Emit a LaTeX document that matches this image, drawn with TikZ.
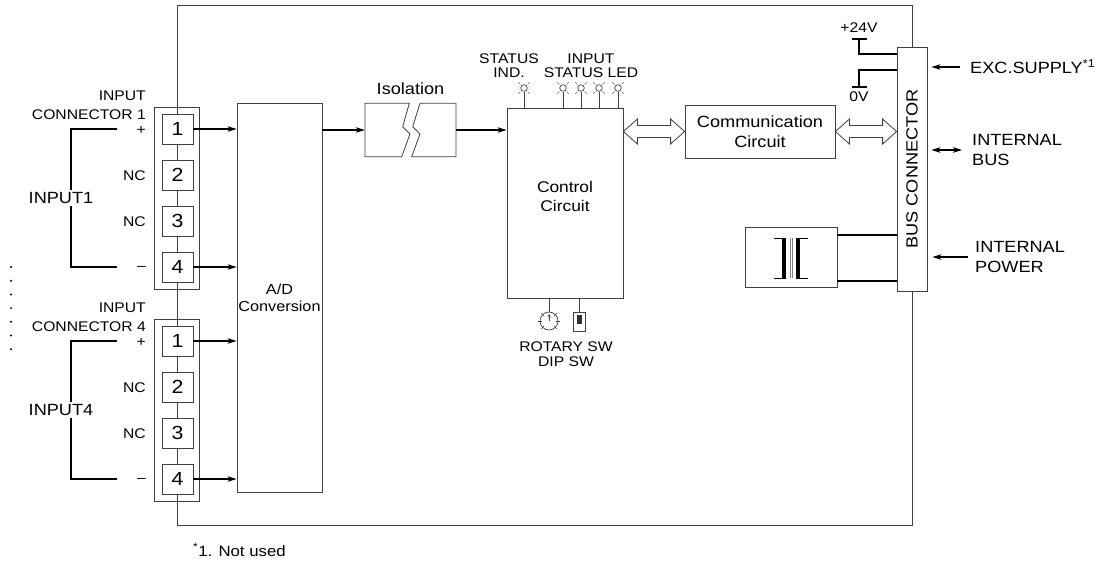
\documentclass[tikz,border=0pt]{standalone}
\usepackage{fontspec}
\setmainfont{Liberation Sans}[FakeStretch=1.12]
\usetikzlibrary{arrows.meta,calc,positioning}

\newcommand\fatlink[2]{%
  \draw[fatline] let \p1=(#1), \p2=(#2) in (\p1) -- (\x1+14pt,\y1+12.5pt) -- (\x1+14pt,\y1+6pt) -- (\x2-14pt,\y1+6pt) -- (\x2-14pt,\y1+12.5pt) -- (\x2,\y1) -- (\x2-14pt,\y1-12.5pt) -- (\x2-14pt,\y1-6pt) -- (\x1+14pt,\y1-6pt) -- (\x1+14pt,\y1-12.5pt) -- cycle;}

\begin{document}
\begin{tikzpicture}[x=1pt,y=-1pt,>={Stealth[length=9pt,width=5.5pt,inset=2.5pt]},
	box/.style={draw=black!75,line width=.8pt},
	wire/.style={line width=1.2pt},
	small/.style={font=\fontsize{14}{19}\selectfont,inner sep=0pt},
	big/.style={font=\fontsize{16.2}{20}\selectfont,inner sep=0pt},
	term/.style={box,fill=white,minimum width=31,minimum height=30,inner sep=0pt,font=\fontsize{19}{19}\selectfont},
	fatline/.style={draw=black!75,line width=.8pt,fill=white}]
	\useasboundingbox (0,0) rectangle (1107,563);
	\node[box,minimum width=735,minimum height=520,inner sep=0pt] (board) at (544.5,265) {};
	\node[box,minimum width=85,minimum height=389,inner sep=0pt] (ad) at (279.5,297.5) {};
	\node[align=center,inner sep=0pt,font=\fontsize{14.5}{17}\selectfont] (adlbl) at (ad) {A/D\\Conversion};
	\foreach \n/\t in {1/107,4/319}{
		\node[box,minimum width=45,minimum height=182,inner sep=0pt,anchor=north west] (c\n) at (154,\t) {};
		\node[small,align=right,anchor=east] (cl\n) at (146,\t-1.5) {INPUT\\CONNECTOR \n};
		\foreach \k/\s in {1/+,2/NC,3/NC,4/\textendash}{
			\node[term] (c\n t\k) at (177.5,\t+22+46*\k-46) {\k};
			\node[small,anchor=east] (c\n s\k) at (146,\t+23+46*\k-46) {\s};
		}
		\draw[wire,->] (c\n t1.east) -- (c\n t1.east -| ad.west);
		\draw[wire,->] (c\n t4.east) -- (c\n t4.east -| ad.west);
		\draw[wire] (c\n t1 -| 117,0) -| (c\n t4 -| 71,0) -- (c\n t4 -| 117,0);
		\node[big,fill=white,inner sep=2pt] (in\n) at (61,\t+91) {INPUT\n};
	}
	\foreach \k in {0,...,6}
		\fill (11,267+13.7*\k) circle (1.1);
	\node[minimum width=91,minimum height=54,inner sep=0pt] (iso) at (410.5,130) {};
	\node[big,above=8pt of iso] (isolbl) {Isolation};
	\draw[box] (365,103.3) -- (409.3,103.3) -- (402.7,126.7) -- (410,134) -- (401.7,156.7) -- (365,156.7) -- cycle;
	\draw[box] (420,103.3) -- (456,103.3) -- (456,156.7) -- (411.7,156.7) -- (420,134) -- (412.7,126.7) -- cycle;
	\node[box,minimum width=116,minimum height=190,inner sep=0pt] (ctl) at (565,203) {};
	\node[align=center,inner sep=0pt,font=\fontsize{15.5}{19}\selectfont] (ctllbl) at (565,196) {Control\\Circuit};
	\draw[wire,->] (ad.east |- iso.west) -- (iso.west);
	\draw[wire,->] (iso.east) -- (iso.east -| ctl.west);
	\foreach \x [count=\i] in {524,563,581,599,618}{
		\node[circle,draw=black!75,line width=.7pt,minimum size=6.6,inner sep=0pt] (led\i) at (\x,88) {};
		\draw[box] (led\i) -- (led\i |- ctl.north);
		\foreach \a in {45,135,225,315}
			\draw[black!60,line width=.5pt] (led\i) ++(\a:5) -- ++(\a:3);
	}
	\node[small,align=center,font=\fontsize{14}{14}\selectfont] (ledind) at (509,66) {STATUS\\IND.};
	\node[small,align=center,font=\fontsize{14}{14}\selectfont] (ledin) at (591,66) {INPUT\\STATUS LED};
	\node[circle,draw=black!75,line width=.7pt,minimum size=18,inner sep=0pt] (rot) at (549,321) {};
	\foreach \a in {0,45,135,180,225,315}
		\draw[black!75,line width=.5pt] (rot) ++(\a:7) -- ++(\a:4);
	\draw[black!75,line width=.6pt,-{Stealth[length=3pt,width=3pt]}] (rot.center) -- ++(0,-7);
	\draw[box] (rot) -- (rot |- ctl.south);
	\node[box,minimum width=12,minimum height=19,inner sep=0pt] (dip) at (579,321.5) {};
	\fill[black!80] (576.5,315) rectangle (581.5,324);
	\draw[box] (dip) -- (dip |- ctl.south);
	\node[small,align=center,font=\fontsize{14}{15}\selectfont] (swlbl) at (566,354.5) {ROTARY SW\\DIP SW};
	\node[box,big,align=center,minimum width=150,minimum height=53] (comm) at (760,131.5) {Communication\\Circuit};
	\node[box,fill=white,minimum width=30,minimum height=244,inner sep=0pt] (bus) at (912,169) {};
	\node[big,rotate=90] (buslbl) at (bus) {BUS CONNECTOR};
	\fatlink{ctl.east |- comm.west}{comm.west}
	\fatlink{comm.east}{bus.west |- comm.east}
	\coordinate[label={[small,yshift=6pt]above:+24V}] (v24) at (859,39);
	\draw[wire] ([xshift=-7.5pt]v24) -- ([xshift=7.5pt]v24);
	\draw[wire] (v24) |- (bus.west |- 0,54);
	\coordinate[label={[small,yshift=-5pt]below:0V}] (v0) at (859,87);
	\draw[wire] ([xshift=-7.5pt]v0) -- ([xshift=7.5pt]v0);
	\draw[wire] (v0) |- (bus.west |- 0,70);
	\node[big,anchor=west] (exc) at (970,67) {EXC.SUPPLY\textsuperscript{*1}};
	\draw[wire,->] ([xshift=-10pt]exc.west) -- ([xshift=4pt]exc.west -| bus.east);
	\node[big,align=left,anchor=west] (ibus) at (972,150) {INTERNAL\\BUS};
	\draw[wire,<->] ([xshift=-10pt]ibus.west) -- ([xshift=4pt]ibus.west -| bus.east);
	\node[big,align=left,anchor=west] (ipow) at (975,257) {INTERNAL\\POWER};
	\draw[wire,->] ([xshift=-7pt]ipow.west) -- ([xshift=5pt]ipow.west -| bus.east);
	\node[box,minimum width=92,minimum height=60,inner sep=0pt] (xfm) at (791,257) {};
	\draw[wire] ([yshift=22pt]xfm.east) -- ([yshift=22pt]xfm.east -| bus.west);
	\draw[wire] ([yshift=-24pt]xfm.east) -- ([yshift=-24pt]xfm.east -| bus.west);
	\draw[line width=4pt] (784,238) -- (784,278);
	\draw[line width=.6pt] (774,238) -- (786,238) (774,278) -- (786,278);
	\draw[black!50,line width=.7pt] (790,238) -- (790,278) (792.5,238) -- (792.5,278);
	\draw[line width=4pt] (798,238) -- (798,278);
	\draw[line width=.6pt] (796,238) -- (808,238) (796,278) -- (808,278);
	\node[font=\fontsize{15}{15}\selectfont,anchor=west,inner sep=0pt] (note) at (193,550) {\textsuperscript{*}1. Not used};
\end{tikzpicture}
\end{document}
